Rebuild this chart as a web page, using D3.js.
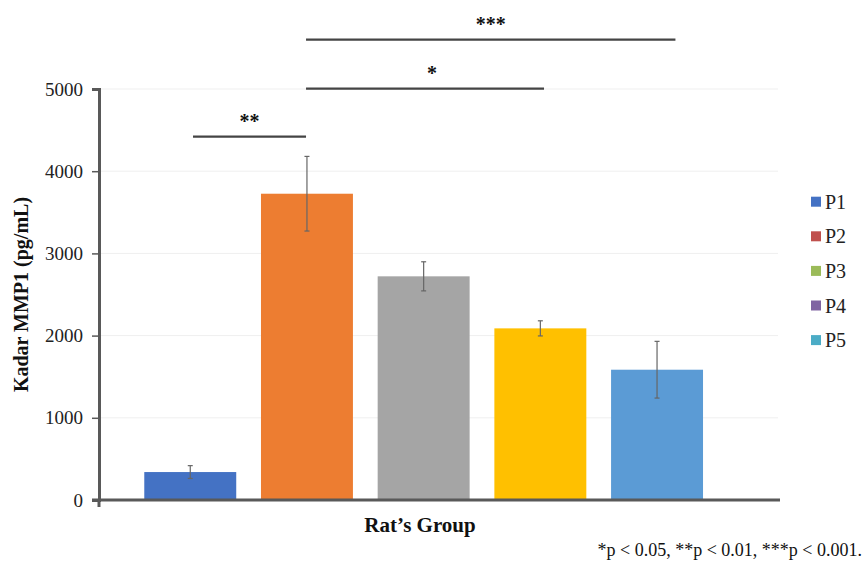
<!DOCTYPE html>
<html>
<head>
<meta charset="utf-8">
<script src="https://cdn.jsdelivr.net/npm/d3@7"></script>
<style>
  body { margin: 0; background: #fff; }
  text { font-family: "Liberation Serif", "Times New Roman", serif; }
</style>
</head>
<body>
<script>
// data
const groups = ['P1', 'P2', 'P3', 'P4', 'P5'];
const means = [340, 3726, 2721, 2088, 1585];
const errors = [78, 454, 177, 92, 345];
const barColors = ['#4472C4', '#ED7D31', '#A5A5A5', '#FFC000', '#5B9BD5'];
const legendColors = ['#4472C4', '#C0504D', '#9BBB59', '#8064A2', '#4BACC6'];
const yTicks = [0, 1000, 2000, 3000, 4000, 5000];
// significance brackets: from group (fraction of band) to group (fraction of band), level
const comparisons = [
    { a: 'P1', fa: 0.53, b: 'P2', fb: 0.49, level: 4420, label: '**' },
    { a: 'P2', fa: 0.49, b: 'P4', fb: 0.54, level: 5005, label: '*' },
    { a: 'P2', fa: 0.49, b: 'P5', fb: 0.70, level: 5600, label: '***' }
];

const width = 865, height = 562;
const serif = '"Liberation Serif", "Times New Roman", serif';
const svg = d3.select('body').append('svg')
    .attr('width', width)
    .attr('height', height);

const x = d3.scaleBand()
    .domain(groups)
    .range([99, 748.3])
    .paddingInner(0.212)
    .paddingOuter(0.388);

const y = d3.scaleLinear()
    .domain([0, 5000])
    .range([500, 89]);

// gridlines
svg.append('g')
    .selectAll('line')
    .data(yTicks.filter(d => d > 0))
    .enter().append('line')
    .attr('x1', 99)
    .attr('x2', 778)
    .attr('y1', d => y(d))
    .attr('y2', d => y(d))
    .attr('stroke', '#efefef')
    .attr('stroke-width', 1);

// bars
svg.append('g')
    .selectAll('rect')
    .data(groups)
    .enter().append('rect')
    .attr('x', d => x(d))
    .attr('y', (d, i) => y(means[i]))
    .attr('width', x.bandwidth())
    .attr('height', (d, i) => y(0) - y(means[i]))
    .attr('fill', (d, i) => barColors[i]);

// error bars
const eb = svg.append('g').attr('stroke', '#666').attr('stroke-width', 1.2);
groups.forEach((g, i) => {
    const cx = x(g) + x.bandwidth() / 2;
    const top = y(means[i] + errors[i]);
    const bot = y(means[i] - errors[i]);
    eb.append('line').attr('x1', cx).attr('x2', cx).attr('y1', top).attr('y2', bot);
    eb.append('line').attr('x1', cx - 2.5).attr('x2', cx + 2.5).attr('y1', top).attr('y2', top);
    eb.append('line').attr('x1', cx - 2.5).attr('x2', cx + 2.5).attr('y1', bot).attr('y2', bot);
});

// y axis
const yAxis = svg.append('g')
    .attr('transform', 'translate(99,0)')
    .call(d3.axisLeft(y).tickValues(yTicks).tickSize(7).tickPadding(9).tickFormat(d3.format('d')));
yAxis.select('.domain').attr('stroke', '#595959').attr('stroke-width', 3);
yAxis.selectAll('.tick line').attr('stroke', '#595959').attr('stroke-width', 1.5);
yAxis.selectAll('.tick text')
    .attr('fill', '#222')
    .style('font-family', serif)
    .style('font-size', '19px');

// x axis line
svg.append('line')
    .attr('x1', 92).attr('x2', 780)
    .attr('y1', y(0)).attr('y2', y(0))
    .attr('stroke', '#595959')
    .attr('stroke-width', 3);
svg.append('line')
    .attr('x1', 99).attr('x2', 99)
    .attr('y1', y(0)).attr('y2', y(0) + 7)
    .attr('stroke', '#595959')
    .attr('stroke-width', 3);

// axis titles
svg.append('text')
    .attr('transform', `translate(28,${(y(0) + y(5000)) / 2}) rotate(-90)`)
    .attr('text-anchor', 'middle')
    .style('font-family', serif)
    .style('font-size', '20px')
    .style('font-weight', 'bold')
    .attr('fill', '#111')
    .text('Kadar MMP1 (pg/mL)');

svg.append('text')
    .attr('x', 420)
    .attr('y', 532)
    .attr('text-anchor', 'middle')
    .style('font-family', serif)
    .style('font-size', '21px')
    .style('font-weight', 'bold')
    .attr('fill', '#111')
    .text('Rat\u2019s Group');

// significance brackets
comparisons.forEach(c => {
    const x1 = x(c.a) + c.fa * x.bandwidth();
    const x2 = x(c.b) + c.fb * x.bandwidth();
    svg.append('line')
        .attr('x1', x1).attr('x2', x2)
        .attr('y1', y(c.level)).attr('y2', y(c.level))
        .attr('stroke', '#444')
        .attr('stroke-width', 2.2);
    svg.append('text')
        .attr('x', (x1 + x2) / 2 + (c.label === '*' ? 7 : 0))
        .attr('y', y(c.level) - 9)
        .attr('text-anchor', 'middle')
        .style('font-family', serif)
        .style('font-size', '20px')
        .style('font-weight', 'bold')
        .attr('fill', '#111')
        .text(c.label);
});

// legend
const legend = svg.append('g')
    .selectAll('g')
    .data(groups)
    .enter().append('g')
    .attr('transform', (d, i) => `translate(811,${201.7 + i * 34.6})`);
legend.append('rect')
    .attr('x', 0).attr('y', -5)
    .attr('width', 10).attr('height', 10)
    .attr('fill', (d, i) => legendColors[i]);
legend.append('text')
    .attr('x', 14).attr('y', 7)
    .style('font-family', serif)
    .style('font-size', '20px')
    .attr('fill', '#222')
    .text(d => d);

// footnote
svg.append('text')
    .attr('x', 862)
    .attr('y', 556)
    .attr('text-anchor', 'end')
    .style('font-family', serif)
    .style('font-size', '18px')
    .attr('fill', '#111')
    .text('*p < 0.05, **p < 0.01, ***p < 0.001.');
</script>
</body>
</html>
